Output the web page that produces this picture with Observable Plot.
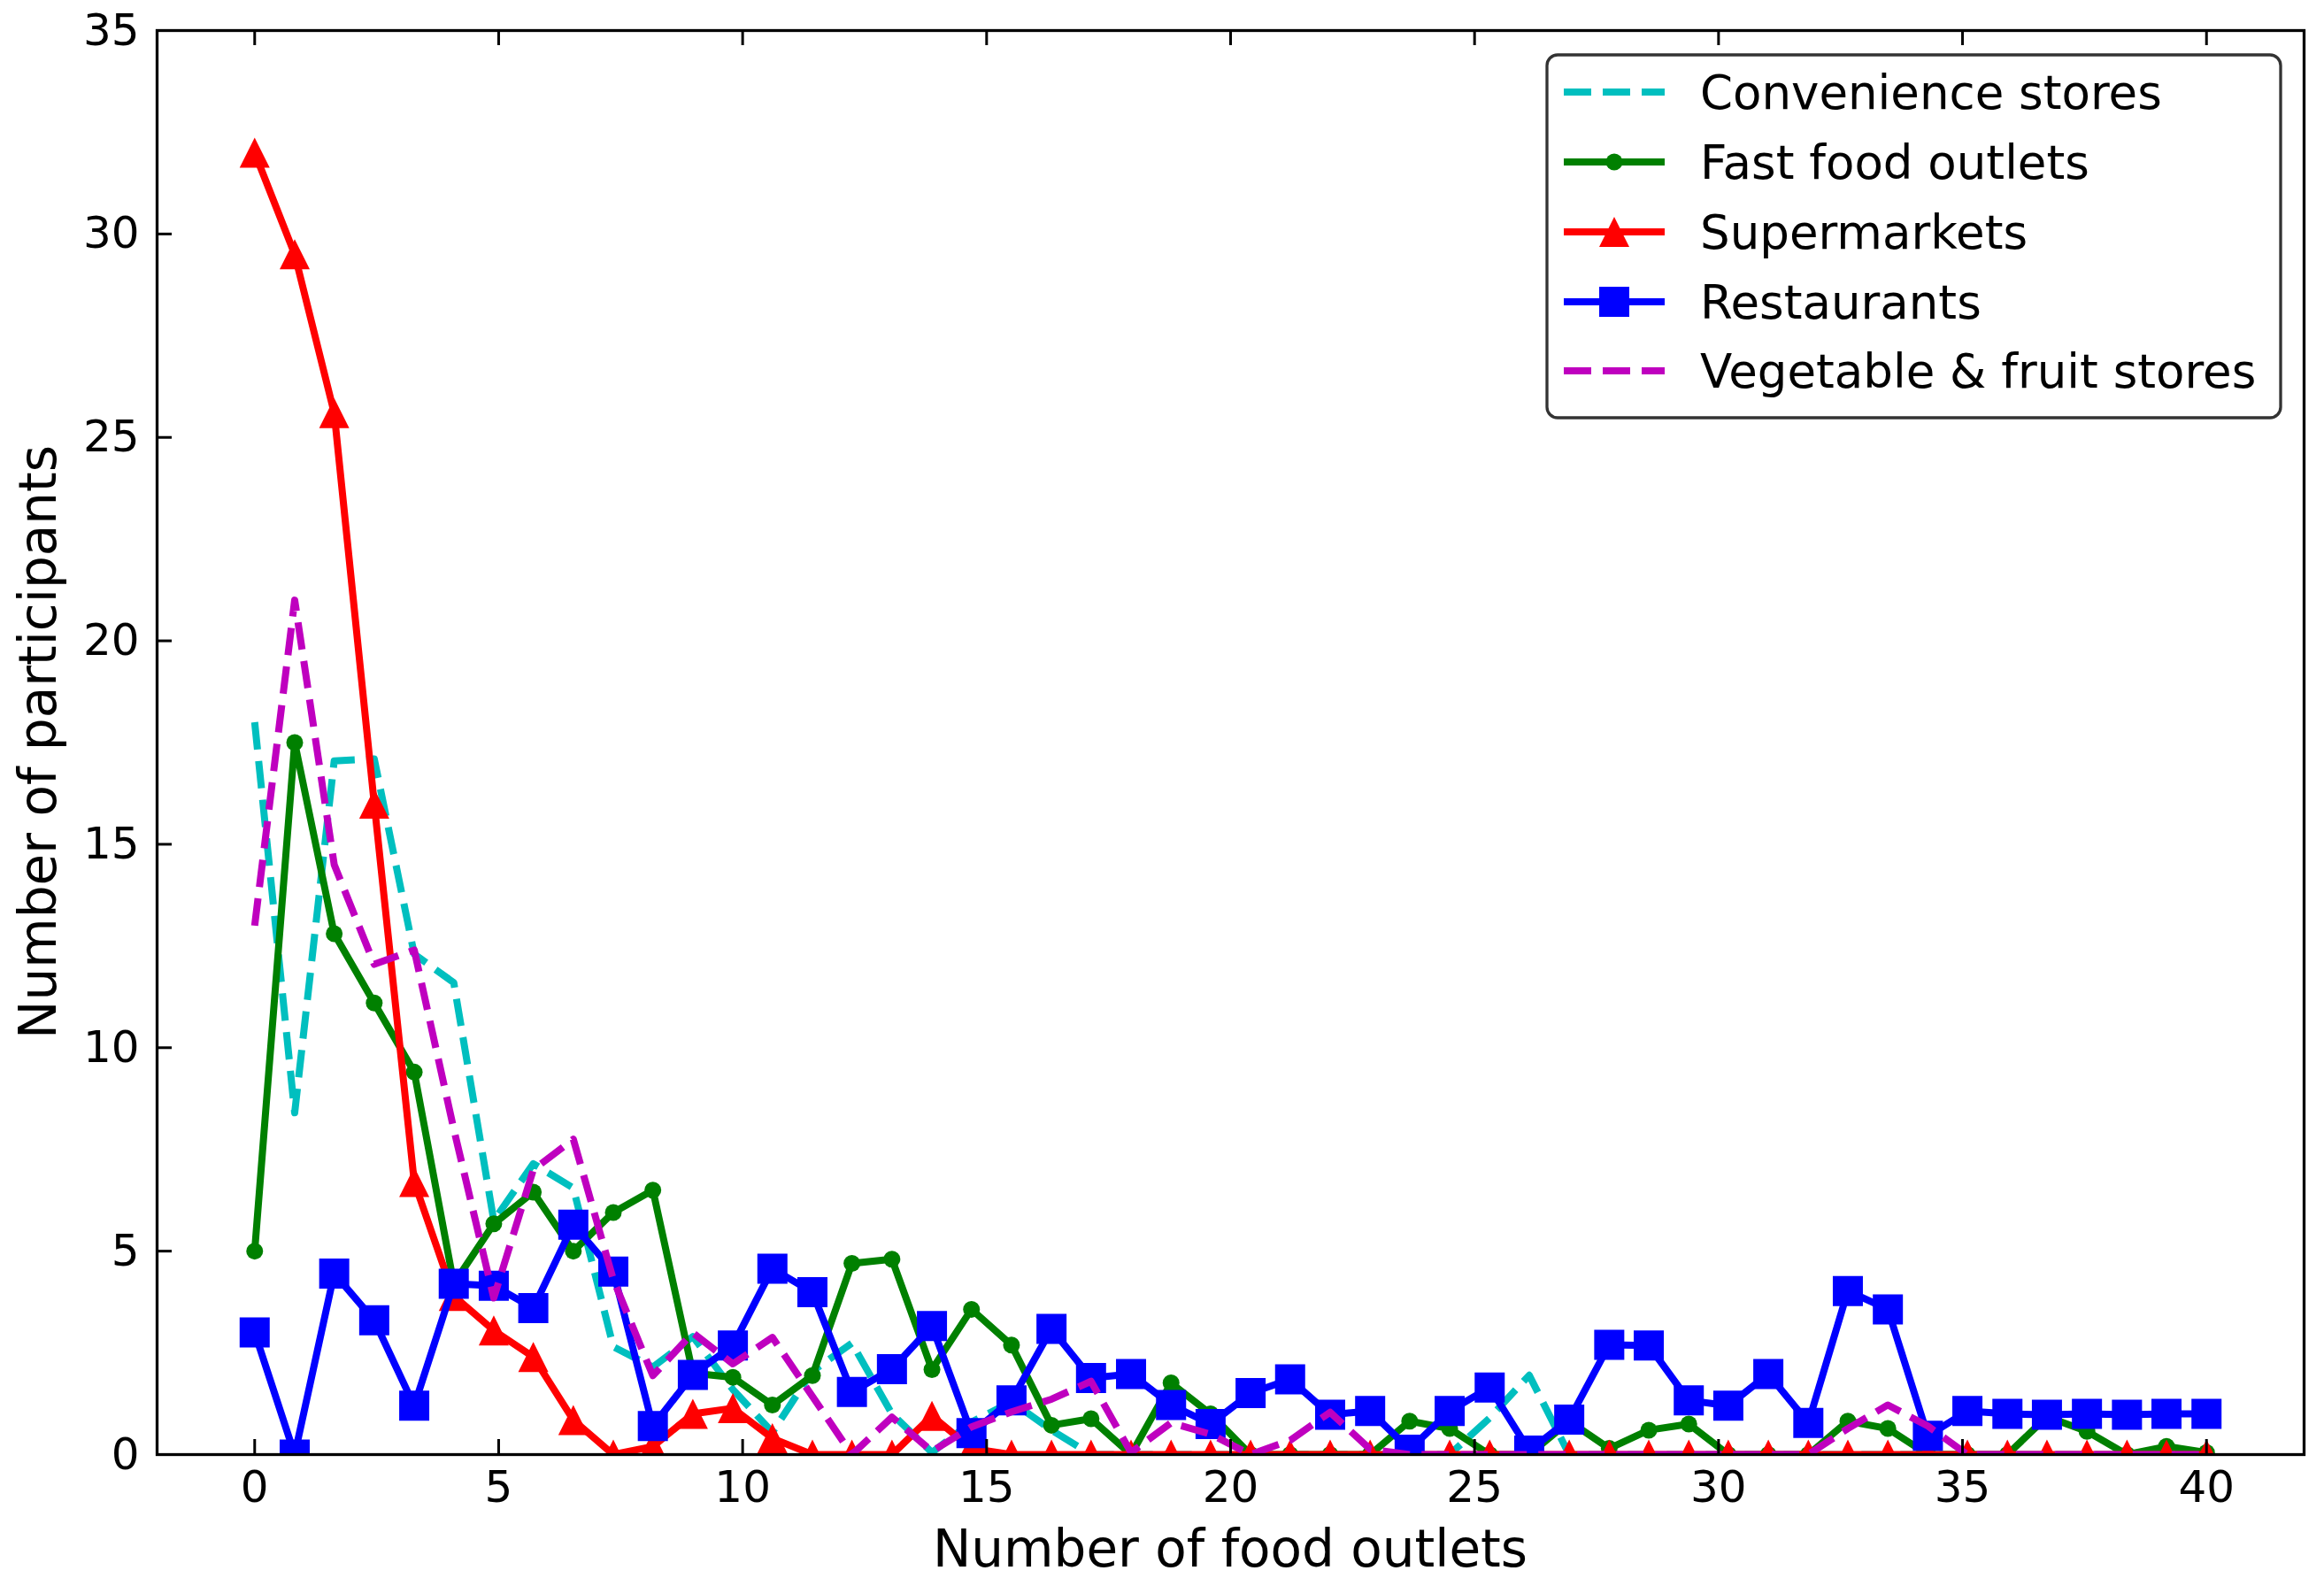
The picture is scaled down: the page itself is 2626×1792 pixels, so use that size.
<!DOCTYPE html>
<html>
<head>
<meta charset="utf-8">
<script src="https://cdn.jsdelivr.net/npm/d3@7"></script>
<script src="https://cdn.jsdelivr.net/npm/@observablehq/plot@0.6"></script>
<style>
  html, body { margin: 0; padding: 0; background: #fff; overflow: hidden; }
  #chart { width: 2626px; height: 1792px; }
</style>
</head>
<body>
<div id="chart"></div>
<script>
// ---------- data ----------
const outlets = [0, 0.82, 1.63, 2.45, 3.27, 4.08, 4.90, 5.71, 6.53, 7.35, 8.16, 8.98, 9.80, 10.61, 11.43, 12.24, 13.06, 13.88, 14.69, 15.51,
  16.33, 17.14, 17.96, 18.78, 19.59, 20.41, 21.22, 22.04, 22.86, 23.67, 24.49, 25.31, 26.12, 26.94, 27.76, 28.57, 29.39, 30.20, 31.02, 31.84,
  32.65, 33.47, 34.29, 35.10, 35.92, 36.73, 37.55, 38.37, 39.18, 40];

const convenience = [18, 8.4, 17.05, 17.1, 12.3, 11.6, 5.75, 7.15, 6.55, 2.65, 2.15, 2.9, 1.6, 0.55, 2.05, 2.74, 1.0, 0.05, 0.8, 1.3,
  0.6, 0, 0, 0, 0, 0, 0, 0, 0, 0, 0, 0.9, 1.95, 0, 0, 0, 0, 0, 0, 0,
  0, 0, 0, 0, 0, 0, 0, 0, 0, 0];

const fastFood = [5, 17.5, 12.8, 11.1, 9.4, 4.2, 5.67, 6.45, 5.0, 5.95, 6.5, 2.0, 1.9, 1.22, 1.94, 4.7, 4.8, 2.09, 3.57, 2.69,
  0.72, 0.88, 0, 1.76, 1.0, 0, 0, 0, 0, 0.82, 0.64, 0, 0, 0.82, 0.15, 0.6, 0.75, 0, 0, 0,
  0.82, 0.64, 0, 0, 0, 0.93, 0.57, 0, 0.2, 0.05];

const supermarkets = [32, 29.5, 25.6, 16, 6.7, 3.9, 3.05, 2.4, 0.85, 0, 0.2, 1.0, 1.14, 0.4, 0, 0, 0, 0.95, 0.15, 0,
  0, 0, 0, 0, 0, 0, 0, 0, 0, 0, 0, 0, 0, 0, 0, 0, 0, 0, 0, 0,
  0, 0, 0, 0, 0, 0, 0, 0, 0, 0];

const restaurants = [3, 0, 4.45, 3.3, 1.2, 4.2, 4.15, 3.6, 5.65, 4.5, 0.7, 1.96, 2.68, 4.57, 3.99, 1.54, 2.1, 3.16, 0.53, 1.33,
  3.09, 1.88, 1.98, 1.22, 0.75, 1.51, 1.85, 0.98, 1.07, 0.12, 1.07, 1.65, 0.1, 0.86, 2.7, 2.68, 1.33, 1.2, 1.98, 0.78,
  4.02, 3.57, 0.46, 1.07, 1.0, 0.98, 1.0, 0.98, 1.0, 1.0];

const vegFruit = [13, 21, 14.5, 12.05, 12.4, 8.0, 3.85, 7.0, 7.75, 4.3, 1.94, 2.99, 2.23, 2.88, 1.43, 0, 0.92, 0.08, 0.68, 1.05,
  1.36, 1.8, 0.05, 0.78, 0.5, 0, 0.35, 1.04, 0.13, 0, 0, 0, 0, 0, 0, 0, 0, 0, 0, 0,
  0.64, 1.22, 0.7, 0, 0, 0, 0, 0, 0, 0];

const seriesNames = ["Convenience stores", "Fast food outlets", "Supermarkets", "Restaurants", "Vegetable & fruit stores"];
const seriesValues = [convenience, fastFood, supermarkets, restaurants, vegFruit];

const xTicks = [0, 5, 10, 15, 20, 25, 30, 35, 40];
const yTicks = [0, 5, 10, 15, 20, 25, 30, 35];
const xLabel = "Number of food outlets";
const yLabel = "Number of participants";

// ---------- styles / layout ----------
const W = 2626, H = 1792;
const mL = 177, mR = 23, mT = 34, mB = 149;
const plotW = W - mL - mR, plotH = H - mT - mB;
const tickLen = 17;
const LW = 8;
const DASH = "31,13";

// matplotlib-like marker shapes
const triangle = { draw(ctx, size) { const r = Math.sqrt(size / Math.PI); ctx.moveTo(0, -r); ctx.lineTo(r, r); ctx.lineTo(-r, r); ctx.closePath(); } };
const square = { draw(ctx, size) { const r = Math.sqrt(size / Math.PI); ctx.rect(-r, -r, 2 * r, 2 * r); } };

const styles = [
  { color: "#00BFBF", dash: DASH, marker: null },
  { color: "#008000", dash: null, marker: { symbol: "circle", r: 9.5 } },
  { color: "#FF0000", dash: null, marker: { symbol: triangle, r: 17 } },
  { color: "#0000FF", dash: null, marker: { symbol: square, r: 17 } },
  { color: "#BF00BF", dash: DASH, marker: null }
];

const table = seriesNames.flatMap((name, k) => outlets.map((x, i) => ({ x, y: seriesValues[k][i], series: name })));

const seriesMarks = seriesNames.flatMap((name, k) => {
  const st = styles[k];
  const data = table.filter(d => d.series === name);
  const m = [Plot.line(data, {
    x: "x", y: "y", stroke: st.color, strokeWidth: LW,
    strokeDasharray: st.dash || undefined,
    strokeLinecap: st.dash ? "butt" : "round",
    strokeLinejoin: "round", clip: true
  })];
  if (st.marker) {
    m.push(Plot.dot(data, { x: "x", y: "y", r: st.marker.r, symbol: st.marker.symbol, fill: st.color, clip: true }));
  }
  return m;
});

const chart = Plot.plot({
  width: W, height: H,
  marginLeft: mL, marginRight: mR, marginTop: mT, marginBottom: mB,
  x: { domain: [-2, 42] },
  y: { domain: [0, 35] },
  style: { fontFamily: "DejaVu Sans", background: "white", color: "black" },
  marks: [
    ...seriesMarks,
    // inward ticks on bottom and top
    Plot.ruleX(xTicks, { x: d => d, stroke: "black", strokeWidth: 3, strokeDasharray: `${tickLen},${plotH - 2 * tickLen}` }),
    // inward ticks on the left
    Plot.ruleY(yTicks, { y: d => d, stroke: "black", strokeWidth: 3, strokeDasharray: `${tickLen},${plotW + 200}` }),
    Plot.axisX({ ticks: xTicks, anchor: "bottom", tickSize: 0, tickPadding: 18, fontSize: 50, label: null }),
    Plot.axisY({ ticks: yTicks, anchor: "left", tickSize: 0, tickPadding: 20, fontSize: 50, label: null }),
    Plot.frame({ stroke: "black", strokeWidth: 3.3 })
  ]
});

document.getElementById("chart").appendChild(chart);

// ---------- axis titles ----------
const svg = d3.select(chart);
svg.append("text")
  .attr("x", mL + plotW / 2).attr("y", 1770)
  .attr("text-anchor", "middle").attr("font-size", 58).attr("fill", "black")
  .text(xLabel);
svg.append("text")
  .attr("transform", `translate(63,${mT + plotH / 2}) rotate(-90)`)
  .attr("text-anchor", "middle").attr("font-size", 58).attr("fill", "black")
  .text(yLabel);

// ---------- legend ----------
const lg = svg.append("g").attr("text-anchor", "start");
lg.append("rect")
  .attr("x", 1748).attr("y", 62).attr("width", 829).attr("height", 410)
  .attr("rx", 12).attr("ry", 12)
  .attr("fill", "white").attr("fill-opacity", 0.85)
  .attr("stroke", "#333").attr("stroke-width", 3.3);
const rowY = [104, 183, 262, 341, 419];
seriesNames.forEach((name, k) => {
  const st = styles[k];
  const y = rowY[k];
  lg.append("line")
    .attr("x1", 1767).attr("x2", 1881).attr("y1", y).attr("y2", y)
    .attr("stroke", st.color).attr("stroke-width", LW)
    .attr("stroke-dasharray", st.dash || null)
    .attr("stroke-linecap", "butt");
  if (st.marker) {
    const sym = st.marker.symbol === "circle" ? d3.symbolCircle : st.marker.symbol;
    lg.append("path")
      .attr("transform", `translate(1824,${y})`)
      .attr("d", d3.symbol(sym, Math.PI * st.marker.r * st.marker.r)())
      .attr("fill", st.color);
  }
  lg.append("text")
    .attr("x", 1921).attr("y", y + 19)
    .attr("text-anchor", "start")
    .attr("font-size", 53).attr("fill", "black")
    .text(name);
});
</script>
</body>
</html>
